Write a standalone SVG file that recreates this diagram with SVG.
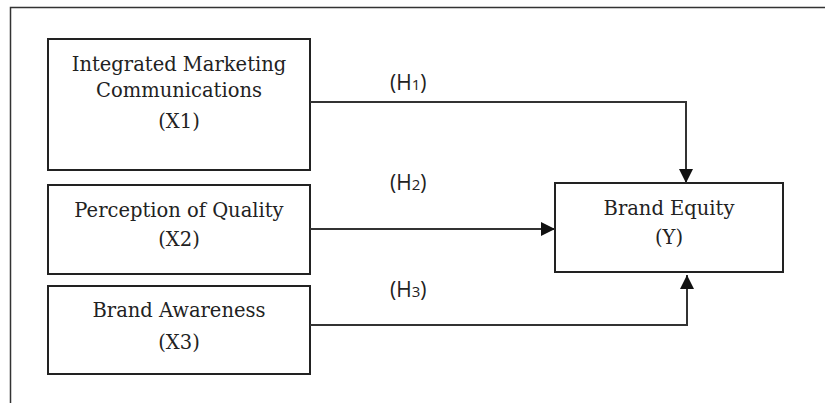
<svg xmlns="http://www.w3.org/2000/svg" width="825" height="403" viewBox="0 0 825 403">
<style>
.box{fill:#fff;stroke:#222;stroke-width:2}
.t{font-family:"DejaVu Serif","Liberation Serif",serif;font-size:19.5px;fill:#222;text-anchor:middle}
.h{font-family:"Open Sans","Liberation Sans",sans-serif;font-size:21px;fill:#222}
.sub{font-size:15px}
.c{fill:none;stroke:#333;stroke-width:2}
</style>
<defs>
<marker id="ah" viewBox="0 0 10 10" refX="10" refY="5" markerWidth="14" markerHeight="14" markerUnits="userSpaceOnUse" orient="auto">
<path d="M0,0 L10,5 L0,10 Z" fill="#111"/>
</marker>
</defs>
<rect width="825" height="403" fill="#fff"/>
<path d="M10.5,403 V7.5 H825" fill="none" stroke="#333" stroke-width="1.5"/>
<g id="x1">
<rect class="box" x="48" y="39" width="262" height="131"/>
<text class="t" x="179" y="71">Integrated Marketing</text>
<text class="t" x="179" y="97">Communications</text>
<text class="t" x="179" y="128">(X1)</text>
</g>
<g id="x2">
<rect class="box" x="48" y="185" width="262" height="89"/>
<text class="t" x="179" y="217">Perception of Quality</text>
<text class="t" x="179" y="246">(X2)</text>
</g>
<g id="x3">
<rect class="box" x="48" y="286" width="262" height="88"/>
<text class="t" x="179" y="317">Brand Awareness</text>
<text class="t" x="179" y="349">(X3)</text>
</g>
<g id="y">
<rect class="box" x="555" y="183" width="228" height="89"/>
<text class="t" x="669" y="215">Brand Equity</text>
<text class="t" x="669" y="244">(Y)</text>
</g>
<g id="connectors">
<path class="c" d="M310,102 H686 V183" marker-end="url(#ah)"/>
<path class="c" d="M310,229 H555" marker-end="url(#ah)"/>
<path class="c" d="M310,325 H687 V275" marker-end="url(#ah)"/>
</g>
<g id="labels">
<text class="h" x="390" y="90">(H<tspan class="sub">1</tspan>)</text>
<text class="h" x="390" y="190">(H<tspan class="sub">2</tspan>)</text>
<text class="h" x="390" y="297">(H<tspan class="sub">3</tspan>)</text>
</g>
</svg>
